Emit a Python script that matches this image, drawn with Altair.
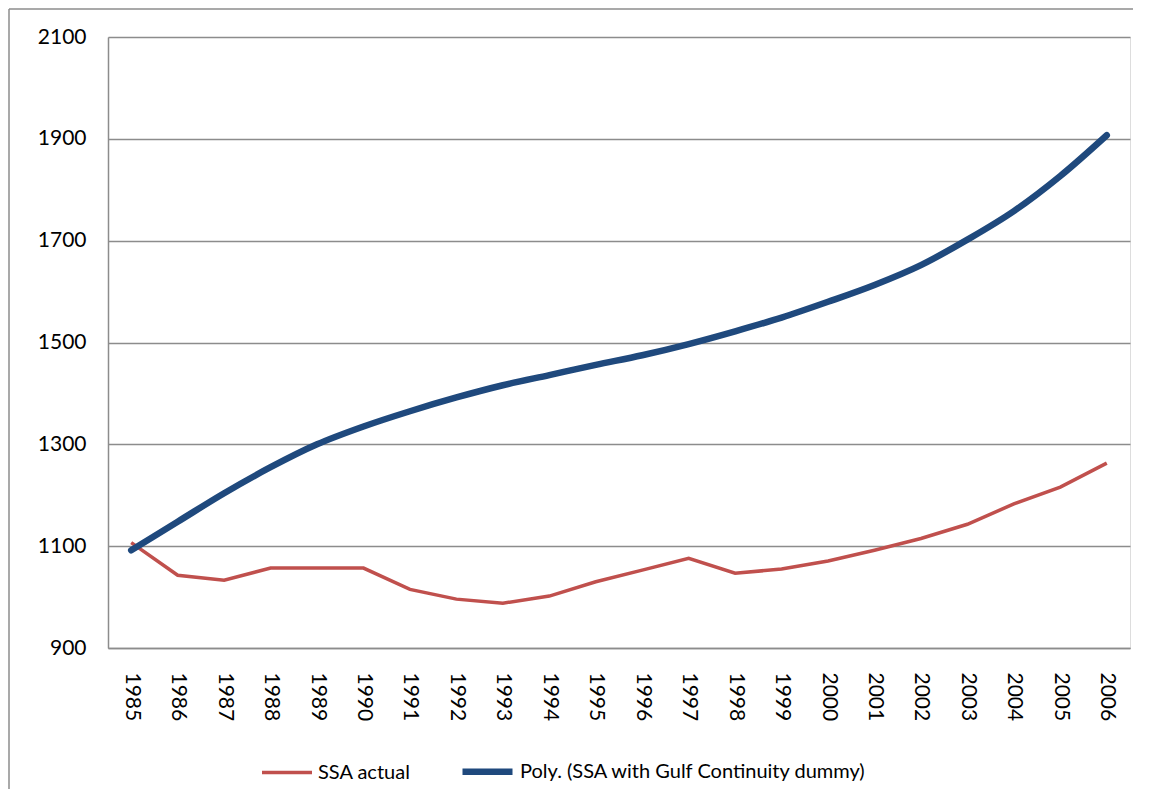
import altair as alt
import pandas as pd

years = [str(y) for y in range(1985, 2007)]
ssa_actual = [1107, 1043, 1033, 1057, 1057, 1057, 1015, 996, 988, 1002, 1030, 1053,
              1076, 1047, 1055, 1071, 1092, 1115, 1143, 1183, 1216, 1263]
poly_trend = [1092, 1148, 1204, 1255, 1300, 1335, 1365, 1392, 1416, 1436, 1456, 1475,
              1497, 1522, 1549, 1580, 1613, 1652, 1702, 1758, 1827, 1907]
series_names = ["SSA actual", "Poly. (SSA with Gulf Continuity dummy)"]
series_colors = ["#C0504D", "#1F497D"]
y_ticks = [900, 1100, 1300, 1500, 1700, 1900, 2100]

df = pd.DataFrame({
    "year": years * 2,
    "value": ssa_actual + poly_trend,
    "series": [series_names[0]] * len(years) + [series_names[1]] * len(years),
})

FONT = "Lato"
GRAY = "#8C8C8C"

x_enc = alt.X("year:O", scale=alt.Scale(type="point", padding=0.5),
              axis=alt.Axis(title=None, labelAngle=90, labelAlign="left", labelBaseline="middle",
                            labelPadding=24, ticks=False, grid=False, domainColor=GRAY,
                            domainWidth=1.5, labelFontSize=21, labelFont=FONT, labelColor="#000000"))
y_enc = alt.Y("value:Q", scale=alt.Scale(domain=[900, 2100], nice=False, zero=False),
              axis=alt.Axis(title=None, values=y_ticks, format="d", ticks=False, grid=True,
                            gridColor=GRAY, gridWidth=1.5, domainColor=GRAY, domainWidth=1.5,
                            labelPadding=22, labelFontSize=21, labelFont=FONT,
                            labelColor="#000000"))

legend = alt.Legend(title=None, orient="none", legendX=152, legendY=706, direction="horizontal",
                    symbolType="stroke", symbolSize=2500, labelFontSize=20, labelFont=FONT,
                    labelColor="#000000", columnPadding=38, labelOffset=4, labelLimit=0)
color_enc = alt.Color("series:N", scale=alt.Scale(domain=series_names, range=series_colors),
                      legend=legend)
sw_enc = alt.StrokeWidth("series:N", scale=alt.Scale(domain=series_names, range=[3.5, 6.5]),
                         legend=legend)

base = alt.Chart(df)
red = base.transform_filter(alt.datum.series == series_names[0]).mark_line(
    interpolate="linear").encode(x=x_enc, y=y_enc, color=color_enc, strokeWidth=sw_enc)
blue = base.transform_filter(alt.datum.series == series_names[1]).mark_line(
    interpolate="monotone", strokeCap="round").encode(x=x_enc, y=y_enc, color=color_enc, strokeWidth=sw_enc)

frame_df = pd.DataFrame({"a": [0]})
left_frame = alt.Chart(frame_df).mark_rule(color=GRAY, strokeWidth=1.5, clip=False).encode(
    x=alt.value(-99), y=alt.value(-28), y2=alt.value(752))
top_frame = alt.Chart(frame_df).mark_rule(color=GRAY, strokeWidth=1.5, clip=False).encode(
    x=alt.value(-99), x2=alt.value(1025), y=alt.value(-28))

chart = alt.layer(left_frame, top_frame, red, blue).properties(
    width=1022, height=611, padding=0
).configure_view(stroke=None).configure(background="#FFFFFF")

chart.save("out.html", embed_options={"renderer": "svg", "actions": False})
